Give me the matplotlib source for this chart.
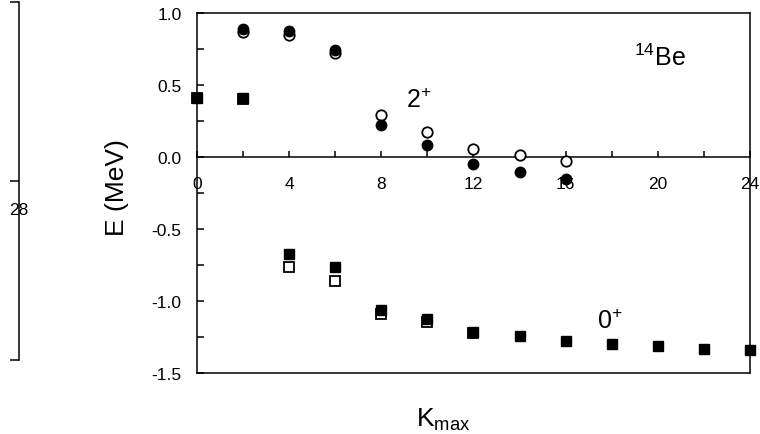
import matplotlib
matplotlib.use("Agg")
import matplotlib.pyplot as plt

plt.rcParams['font.family'] = ['Liberation Sans', 'DejaVu Sans']
plt.rcParams['mathtext.fontset'] = 'custom'
plt.rcParams['mathtext.rm'] = 'Liberation Sans'

# K_max values
k_circ = [2, 4, 6, 8, 10, 12, 14, 16]
k_sq_open = [0, 2, 4, 6, 8, 10, 12]
k_sq = [0, 2, 4, 6, 8, 10, 12, 14, 16, 18, 20, 22, 24]

# 2+ energies (MeV)
e2_open = [0.866, 0.847, 0.720, 0.294, 0.171, 0.056, 0.016, -0.030]
e2_fill = [0.889, 0.873, 0.743, 0.224, 0.085, -0.049, -0.102, -0.153]

# 0+ energies (MeV)
e0_open = [0.41, 0.40, -0.766, -0.861, -1.09, -1.144, -1.219]
e0_fill = [0.41, 0.41, -0.674, -0.766, -1.0625, -1.125, -1.213, -1.243,
           -1.276, -1.299, -1.315, -1.331, -1.340]

xticks = [0, 4, 8, 12, 16, 20, 24]
yticks = [1.0, 0.5, 0.0, -0.5, -1.0, -1.5]
ylabels = ["1.0", "0.5", "0.0", "-0.5", "-1.0", "-1.5"]

fig = plt.figure(figsize=(7.6, 4.35), dpi=100)
ax = fig.add_axes([0.2592, 0.1402, 0.7276, 0.8276])

# open symbols first, filled drawn on top
ax.plot(k_circ, e2_open, 'o', mfc='white', mec='black', mew=1.3, ms=7.5, clip_on=False, zorder=3)
ax.plot(k_sq_open, e0_open, 's', mfc='white', mec='black', mew=1.3, ms=7, clip_on=False, zorder=3)
ax.plot(k_circ, e2_fill, 'o', color='black', ms=7.5, clip_on=False, zorder=4)
ax.plot(k_sq, e0_fill, 's', color='black', ms=7, clip_on=False, zorder=4)

ax.set_xlim(0, 24)
ax.set_ylim(-1.5, 1.0)

# x axis sits at E = 0, box closed at the bottom with a plain line
ax.spines['bottom'].set_position(('data', 0))
for s in ax.spines.values():
    s.set_linewidth(1.1)
ax.plot([0, 24], [-1.5, -1.5], color='black', lw=1.1, clip_on=False)

ax.set_xticks(xticks)
ax.set_xticks(range(0, 25, 2), minor=True)
ax.set_yticks(yticks)
ax.set_yticklabels(ylabels)
ax.set_yticks([0.75, 0.25, -0.25, -0.75, -1.25], minor=True)
ax.tick_params(axis='both', which='both', direction='in', labelsize=12.5, width=1.1)
ax.tick_params(axis='y', which='both', length=5, pad=11)
ax.tick_params(axis='x', which='both', length=4, pad=14)

ax.text(9.05, 0.347, r'$\mathregular{2^{+}}$', fontsize=18)
ax.text(18.95, 0.639, r'$\mathregular{^{14}Be}$', fontsize=18)
ax.text(17.35, -1.19, r'$\mathregular{0^{+}}$', fontsize=18)

fig.text(117 / 760, 1 - 188 / 435, 'E (MeV)', rotation=90, fontsize=19,
         ha='center', va='center')
fig.text(443 / 760, 1 - 420 / 435, r'K$_{\mathregular{max}}$', fontsize=19,
         ha='center', va='center')

# stray bracket on the left
ax2 = fig.add_axes([19 / 760, 1 - 361 / 435, 0.01, 358 / 435])
for name in ['top', 'right', 'bottom']:
    ax2.spines[name].set_visible(False)
ax2.spines['left'].set_linewidth(1.1)
ax2.set_ylim(0, 1)
ax2.set_xticks([])
ax2.set_yticks([0, 0.5, 1])
ax2.set_yticklabels([])
ax2.tick_params(axis='y', direction='out', length=6.5, width=1.1)
ax2.patch.set_visible(False)
fig.text(19 / 760, 1 - 211 / 435, '28', fontsize=12.5, ha='center', va='center')

fig.savefig('out.png', dpi=100)
